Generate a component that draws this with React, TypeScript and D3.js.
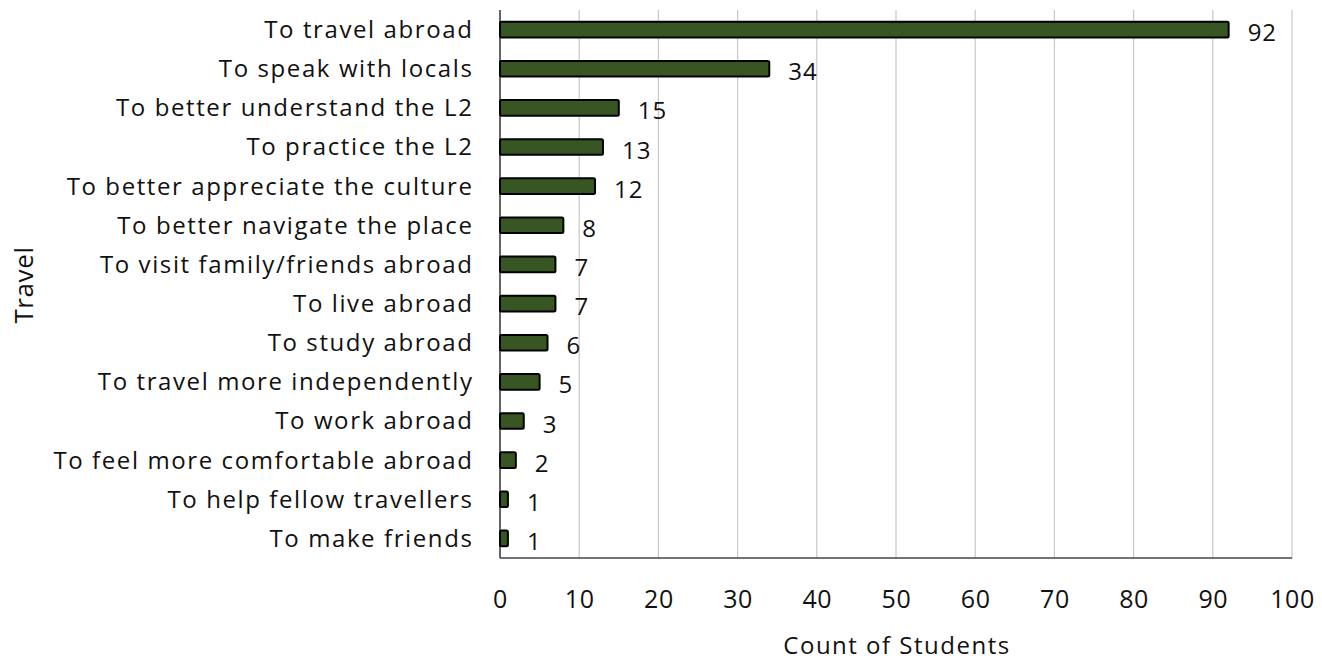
import React from "react";
import * as d3 from "d3";

const categories = [
  "To travel abroad",
  "To speak with locals",
  "To better understand the L2",
  "To practice the L2",
  "To better appreciate the culture",
  "To better navigate the place",
  "To visit family/friends abroad",
  "To live abroad",
  "To study abroad",
  "To travel more independently",
  "To work abroad",
  "To feel more comfortable abroad",
  "To help fellow travellers",
  "To make friends",
];
const counts = [92, 34, 15, 13, 12, 8, 7, 7, 6, 5, 3, 2, 1, 1];
const xTicks = [0, 10, 20, 30, 40, 50, 60, 70, 80, 90, 100];

const W = 1322;
const H = 662;
const margin = { left: 500, right: 30, top: 10, bottom: 104 };
const FONT = "'Open Sans', 'Liberation Sans', sans-serif";

export default function App() {
  const x = d3.scaleLinear().domain([0, 100]).range([margin.left, W - margin.right]);
  const y = d3
    .scaleBand<string>()
    .domain(categories)
    .range([margin.top, H - margin.bottom])
    .paddingInner(0.6)
    .paddingOuter(0.3);
  const bottom = H - margin.bottom;
  const bh = y.bandwidth();

  return (
    <svg
      width={W}
      height={H}
      style={{ position: "absolute", left: 0, top: 0, background: "#fff" }}
      fontFamily={FONT}
    >
      {xTicks.map((t) =>
        t === 0 ? null : (
          <line key={"g" + t} x1={x(t)} x2={x(t)} y1={margin.top} y2={bottom} stroke="#c8c8c8" strokeWidth={1.2} />
        )
      )}
      <line x1={x(0)} x2={x(0)} y1={margin.top} y2={bottom} stroke="#333" strokeWidth={1.5} />
      <line x1={x(0)} x2={x(100)} y1={bottom} y2={bottom} stroke="#444" strokeWidth={1.5} />
      {categories.map((c, i) => {
        const yy = y(c)!;
        return (
          <g key={c}>
            <rect
              x={x(0)}
              y={yy}
              width={x(counts[i]) - x(0)}
              height={bh}
              fill="#375623"
              stroke="#000"
              strokeWidth={2}
              rx={1.5}
            />
            <text
              x={473.5}
              y={yy + bh / 2}
              dy="0.35em"
              textAnchor="end"
              fontSize={24}
              letterSpacing={1.6}
              fill="#111"
            >
              {c}
            </text>
            <text x={x(counts[i]) + 19} y={yy + bh / 2 + 11.5} fontSize={24} letterSpacing={1} fill="#111">
              {counts[i]}
            </text>
          </g>
        );
      })}
      {xTicks.map((t) => (
        <text key={"t" + t} x={x(t) + 0.5} y={608} textAnchor="middle" fontSize={25} letterSpacing={0.6} fill="#111">
          {t}
        </text>
      ))}
      <text x={x(50) + 1} y={654} textAnchor="middle" fontSize={24} letterSpacing={1.5} fill="#111">
        Count of Students
      </text>
      <text
        transform={`translate(33,285) rotate(-90)`}
        textAnchor="middle"
        fontSize={26}
        letterSpacing={0.6}
        fill="#111"
      >
        Travel
      </text>
    </svg>
  );
}
